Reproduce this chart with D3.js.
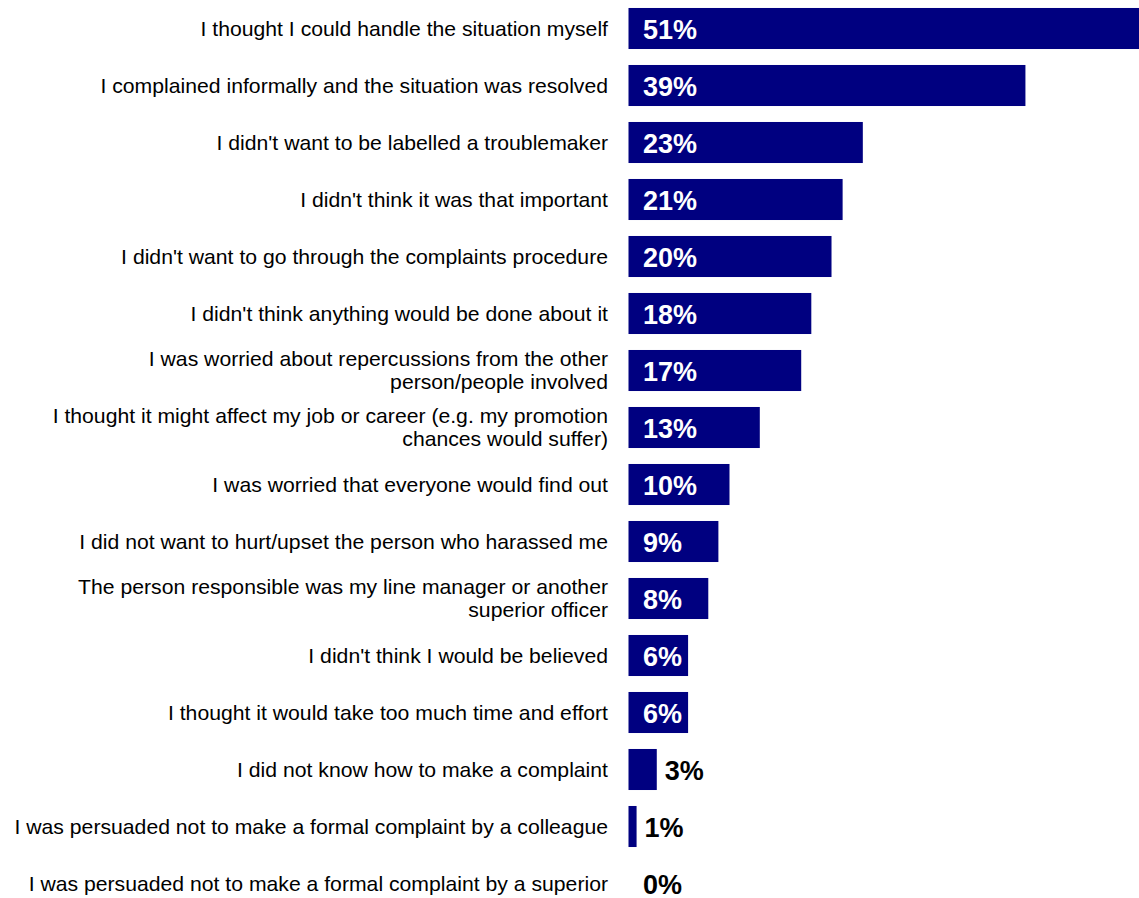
<!DOCTYPE html>
<html>
<head>
<meta charset="utf-8">
<script src="https://cdn.jsdelivr.net/npm/d3@7"></script>
<style>
  html, body { margin: 0; padding: 0; background: #fff; }
  svg { display: block; }
  .cat { font-family: "Liberation Sans", Arial, sans-serif; font-size: 20px; fill: #000; }
  .val { font-family: "Liberation Sans", Arial, sans-serif; font-size: 27px; font-weight: bold; }
</style>
</head>
<body>
<svg id="chart" width="1139" height="898"></svg>
<script>
// ── Data ──────────────────────────────────────────────────────────────────────
const reasons = [
  "I thought I could handle the situation myself",
  "I complained informally and the situation was resolved",
  "I didn't want to be labelled a troublemaker",
  "I didn't think it was that important",
  "I didn't want to go through the complaints procedure",
  "I didn't think anything would be done about it",
  "I was worried about repercussions from the other\nperson/people involved",
  "I thought it might affect my job or career (e.g. my promotion\nchances would suffer)",
  "I was worried that everyone would find out",
  "I did not want to hurt/upset the person who harassed me",
  "The person responsible was my line manager or another\nsuperior officer",
  "I didn't think I would be believed",
  "I thought it would take too much time and effort",
  "I did not know how to make a complaint",
  "I was persuaded not to make a formal complaint by a colleague",
  "I was persuaded not to make a formal complaint by a superior",
];

const shares = [51, 39.3, 23.2, 21.2, 20.1, 18.1, 17.1, 13, 10, 8.9, 7.9, 5.9, 5.9, 2.8, 0.8, 0];

// ── Scales ────────────────────────────────────────────────────────────────────
const svg = d3.select("#chart");
const barLeft = 628.5;
const labelRight = 608;

const x = d3.scaleLinear().domain([0, 100]).range([barLeft, barLeft + 1010]);
const y = d3.scaleBand()
  .domain(reasons)
  .range([0, 912])
  .paddingInner(0.28)
  .paddingOuter(0.14);

const fmt = (v) => Math.round(v) + "%";

// ── Bars ──────────────────────────────────────────────────────────────────────
svg.append("g")
  .selectAll("rect")
  .data(reasons)
  .join("rect")
  .attr("x", x(0))
  .attr("y", (d) => y(d))
  .attr("width", (d, i) => x(shares[i]) - x(0))
  .attr("height", y.bandwidth())
  .attr("fill", "#000080");

// ── Category labels ───────────────────────────────────────────────────────────
const lineH = 23;
const cats = svg.append("g")
  .selectAll("g")
  .data(reasons)
  .join("g")
  .attr("transform", (d) => `translate(${labelRight},${y(d) + y.bandwidth() / 2}) scale(1.06,1)`);

cats.each(function (d) {
  const lines = d.split("\n");
  const t = d3.select(this).append("text")
    .attr("class", "cat")
    .attr("text-anchor", "end");
  lines.forEach((ln, k) => {
    t.append("tspan")
      .attr("x", 0)
      .attr("y", 7 + (k - (lines.length - 1) / 2) * lineH)
      .text(ln);
  });
});

// ── Value labels ──────────────────────────────────────────────────────────────
svg.append("g")
  .selectAll("text")
  .data(reasons)
  .join("text")
  .attr("class", "val")
  .attr("x", (d, i) => {
    const w = x(shares[i]) - x(0);
    return w > 50 ? x(0) + 14.5 : Math.max(x(shares[i]) + 8, x(0) + 14.5);
  })
  .attr("y", (d) => y(d) + y.bandwidth() / 2 + 10.5)
  .attr("fill", (d, i) => (x(shares[i]) - x(0) > 50 ? "#fff" : "#000"))
  .text((d, i) => fmt(shares[i]));
</script>
</body>
</html>
